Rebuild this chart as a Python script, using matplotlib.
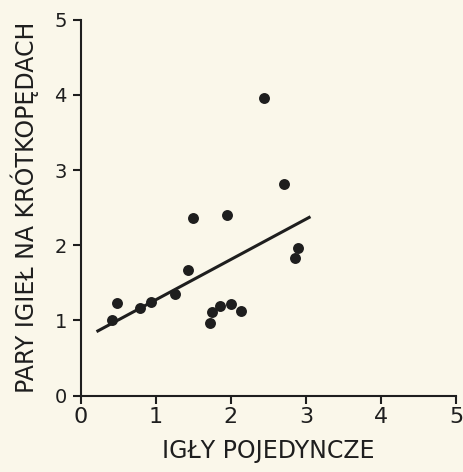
import matplotlib
matplotlib.use("Agg")
import matplotlib.pyplot as plt

# single needles vs. needle pairs on short shoots
x_single = [0.42, 0.48, 0.79, 0.94, 1.26, 1.43, 1.49, 1.72, 1.75, 1.86,
            1.95, 2.00, 2.14, 2.44, 2.71, 2.85, 2.90]
y_pairs = [1.00, 1.23, 1.16, 1.24, 1.35, 1.67, 2.36, 0.96, 1.11, 1.19,
           2.40, 1.22, 1.13, 3.96, 2.82, 1.83, 1.96]

# regression line end points
line_x = [0.21, 3.06]
line_y = [0.85, 2.38]

ticks = [0, 1, 2, 3, 4, 5]

bg = "#faf7ea"
ink = "#1e1e1e"

def main():
    fig = plt.figure(figsize=(4.64, 4.72), dpi=100, facecolor=bg)
    ax = fig.add_axes([0.174, 0.162, 0.809, 0.796], facecolor=bg)

    ax.plot(line_x, line_y, color=ink, lw=2.2, solid_capstyle="butt")
    ax.scatter(x_single, y_pairs, s=62, color=ink, zorder=3, lw=0)

    ax.set_xlim(0, 5)
    ax.set_ylim(0, 5)
    ax.set_xticks(ticks)
    ax.set_yticks(ticks)
    ax.spines["right"].set_visible(False)
    ax.spines["top"].set_visible(False)
    for s in ("left", "bottom"):
        ax.spines[s].set_linewidth(1.5)
        ax.spines[s].set_color(ink)
    ax.tick_params(axis="both", direction="out", length=6, width=1.5, color=ink)
    ax.tick_params(axis="x", labelsize=16, pad=2, labelcolor=ink)
    ax.tick_params(axis="y", labelsize=14, pad=4, labelcolor=ink)

    ax.set_xlabel("IGŁY POJEDYNCZE", fontsize=17, color=ink, labelpad=9)
    ax.set_ylabel("PARY IGIEŁ NA KRÓTKOPĘDACH", fontsize=17, color=ink, labelpad=11)

    fig.savefig("out.png", dpi=100, facecolor=bg)

if __name__ == "__main__":
    main()
